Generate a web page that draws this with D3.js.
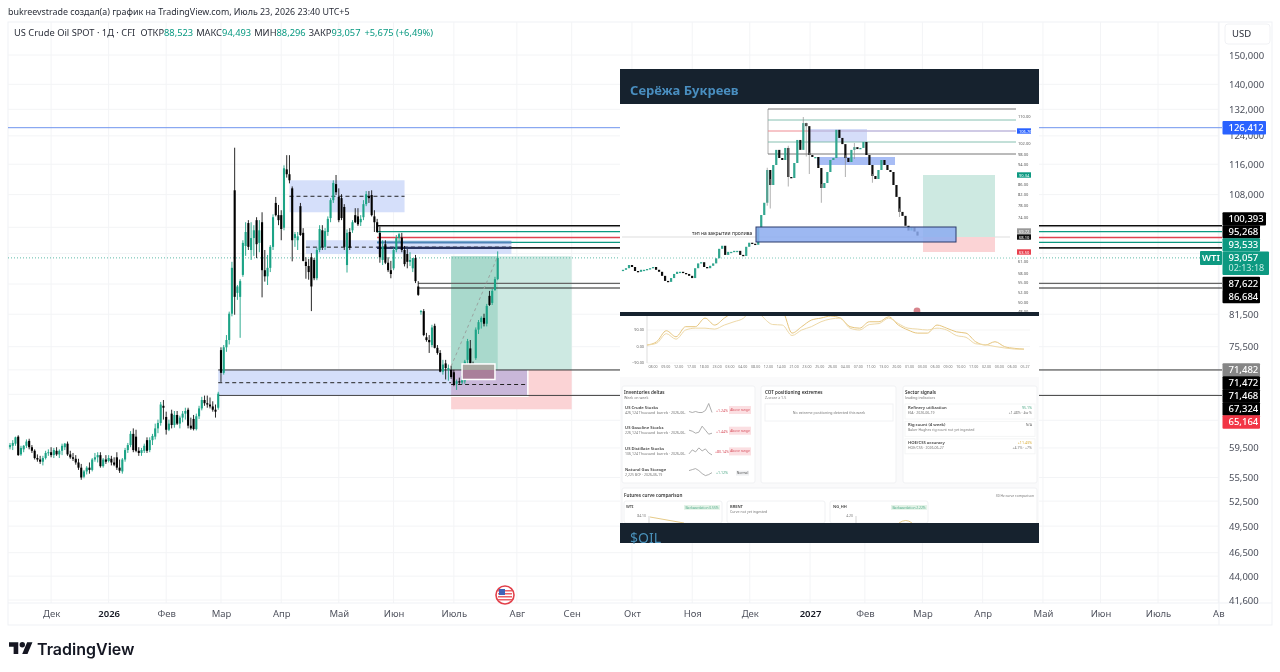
<!DOCTYPE html>
<html>
<head>
<meta charset="utf-8">
<script src="https://cdn.jsdelivr.net/npm/d3@7"></script>
<style>
  html, body { margin: 0; padding: 0; background: #fff; }
  svg { display: block; font-family: "Noto Sans", sans-serif; }
  .axis .domain, .axis line { display: none; }
</style>
</head>
<body>
<div id="chart"></div>
<script>
// Candles, one small list per month: open, high, low, close
const nov2025 = [[59.6,60.2,59.3,59.9],[59.8,60.6,59.2,60.2],[60.1,61.1,59.8,61.0],[61.1,61.3,58.4,58.5],[58.6,59.8,58.4,59.5],[59.3,59.9,58.9,59.8],[59.8,60.7,59.5,60.4],[60.5,60.8,59.3,59.6],[59.6,59.9,58.8,59.1],[59.1,59.3,57.9,58.1],[58.1,58.6,57.6,57.9],[57.9,58.4,57.3,57.6],[57.6,58.4,57.1,58.1],[58.1,59.1,57.9,58.8],[58.8,59.3,58.4,58.9]];
const dec2025 = [[58.9,59.6,58.2,58.5],[58.5,59.5,58.1,59.2],[59.1,59.6,58.4,58.6],[58.6,59.3,58.1,59.1],[59.1,60.1,58.5,59.8],[59.6,60.2,59.2,60.1],[60.1,60.4,58.4,58.6],[58.6,59.1,58.0,58.2],[58.2,58.8,57.7,58.0],[58.0,58.5,57.2,57.5],[57.5,58.0,56.5,56.8],[56.8,57.3,55.2,55.5],[55.6,56.5,55.4,56.3],[56.3,57.0,55.9,56.8],[56.8,57.5,56.0,56.5],[56.5,58.1,56.3,57.9],[57.9,58.8,57.6,58.2],[58.2,58.9,57.5,58.5],[58.5,58.9,56.8,57.0],[57.0,58.1,56.8,57.9],[57.9,58.5,57.3,57.6]];
const jan2026 = [[57.7,58.5,57.5,58.1],[58.0,58.4,57.1,57.5],[57.5,58.2,57.0,57.2],[58.2,58.9,56.5,56.8],[56.8,57.9,56.1,56.4],[56.3,58.1,56.0,57.9],[57.9,59.5,57.6,59.2],[59.2,60.2,58.8,59.9],[59.9,61.9,59.6,61.5],[61.5,62.3,58.9,59.2],[61.1,62.1,58.9,59.1],[59.1,59.6,58.4,58.8],[58.8,59.5,58.4,59.2],[59.1,60.1,58.8,59.8],[60.6,61.0,58.8,59.1],[59.2,61.0,58.9,60.6],[60.6,61.5,59.9,61.2],[61.1,63.0,60.7,62.3],[62.3,63.6,61.6,63.1],[63.1,66.3,62.7,65.9]];
const feb2026 = [[65.7,66.6,63.6,65.4],[64.0,64.8,61.4,62.1],[62.1,63.6,61.9,63.0],[64.5,65.1,62.3,62.8],[62.8,64.9,62.4,64.3],[64.3,64.9,62.8,63.0],[63.0,64.2,62.3,63.9],[63.9,64.9,63.2,64.5],[64.5,65.4,63.6,64.9],[65.1,65.4,62.3,62.7],[62.7,63.9,62.1,62.3],[63.7,64.3,62.0,62.2],[62.2,64.5,62.0,64.1],[64.1,65.7,63.7,65.3],[65.3,67.1,65.0,66.6],[66.6,67.3,65.7,66.1],[66.1,67.3,65.4,65.9],[65.9,67.0,65.3,65.6],[65.6,66.4,64.8,65.1],[65.1,65.9,63.9,64.8]];
const mar2026 = [[65.4,67.9,65.1,67.6],[74.9,75.4,69.5,71.0],[71.0,75.8,70.7,75.4],[75.4,77.6,74.6,76.7],[76.7,82.0,75.9,81.6],[81.6,92.2,81.1,90.9],[109.1,120.6,81.4,84.9],[85.7,87.3,84.3,87.0],[84.9,88.5,77.1,88.1],[89.4,97.0,89.0,96.4],[95.7,101.2,93.5,98.9],[101.0,101.7,94.8,95.5],[94.8,101.2,92.6,97.5],[97.5,100.5,93.5,99.3],[101.7,102.4,93.0,96.1],[96.4,101.7,94.3,99.3],[101.2,103.6,84.8,90.4],[90.4,94.8,88.0,89.1],[89.1,93.7,87.3,90.9],[90.9,95.9,90.0,95.5],[95.5,103.1,94.8,102.4],[105.9,107.4,102.6,102.9]];
const apr2026 = [[102.9,105.4,100.5,101.7],[102.9,104.1,97.0,99.6],[99.9,115.7,99.3,114.9],[114.6,118.5,112.4,113.3],[113.3,118.5,110.9,111.7],[109.6,110.1,92.3,97.0],[97.5,98.9,95.5,98.4],[97.0,98.9,94.8,97.9],[105.1,105.9,98.0,98.2],[98.7,99.8,92.3,92.4],[92.2,93.2,88.6,91.3],[91.3,92.8,88.4,90.0],[93.2,94.1,82.1,87.0],[92.6,93.0,88.3,88.7],[88.7,95.3,88.3,94.8],[94.8,100.5,94.3,99.6],[99.3,100.5,94.8,95.5],[95.5,99.8,94.8,99.1],[98.9,102.6,98.0,102.0],[102.2,107.1,101.2,106.6],[106.6,111.7,105.9,111.0]];
const may2026 = [[110.7,113.1,107.9,108.6],[107.4,109.6,101.2,101.7],[107.1,108.1,101.7,102.2],[104.9,105.6,94.8,95.5],[91.5,99.5,89.9,98.7],[98.9,99.8,94.8,95.3],[99.3,101.7,98.7,101.2],[102.9,104.6,101.0,101.2],[102.6,104.6,100.3,100.7],[101.2,102.9,100.3,102.0],[102.4,106.6,101.7,105.6],[105.6,108.9,105.1,108.1],[107.6,108.9,105.9,107.1],[107.9,109.1,102.6,102.9],[102.6,104.1,98.9,101.2],[101.2,102.0,98.7,98.9],[98.7,100.2,92.0,93.2],[92.6,97.0,91.5,95.5],[96.1,97.0,91.7,92.0],[92.0,93.2,90.0,90.4],[90.4,92.4,88.7,89.6]];
const jun2026 = [[90.8,95.3,90.4,94.8],[94.8,98.2,94.3,97.5],[97.5,98.7,96.6,98.4],[97.6,98.7,94.3,94.8],[94.8,95.7,91.2,91.7],[93.9,95.0,90.8,92.2],[92.2,94.3,91.3,92.6],[90.8,93.0,90.0,93.0],[93.0,93.7,87.7,88.1],[87.0,88.1,85.1,85.3],[81.9,82.3,81.4,82.1],[82.1,82.5,77.4,77.6],[77.2,78.0,76.4,76.7],[76.7,77.6,74.4,76.3],[75.8,79.5,75.4,79.0],[79.3,79.7,75.2,75.3],[75.3,75.8,74.1,74.4],[74.4,74.9,71.1,71.2],[71.2,73.2,70.7,72.4],[72.6,73.2,69.9,71.8],[71.5,72.4,69.7,71.8]];
const jul2026 = [[71.5,72.2,70.0,70.3],[71.1,71.5,68.8,69.0],[69.2,69.9,68.2,69.6],[69.6,70.2,69.0,69.4],[69.4,70.5,69.1,69.9],[69.6,73.2,69.2,72.9],[73.2,76.9,72.4,76.5],[75.2,76.7,72.2,72.4],[72.2,72.9,71.7,72.1],[73.5,79.0,73.2,78.6],[78.6,80.4,77.8,80.0],[80.0,81.1,78.8,80.8],[80.8,81.6,79.2,79.7],[79.7,83.5,79.2,83.1],[85.1,86.1,83.1,83.3],[83.7,86.5,83.3,86.1],[86.3,89.0,86.1,88.5],[88.523,94.493,88.296,93.057]];

// Axis
const priceTicks = [150, 140, 132, 124, 116, 108, 81.5, 75.5, 59.5, 55.5, 52.5, 49.5, 46.5, 44, 41.6];
const hiddenGridTicks = [100, 94, 87.5, 71.5, 67.5, 63.5];
const monthLabels = ["Дек", "2026", "Фев", "Мар", "Апр", "Май", "Июн", "Июль", "Авг", "Сен", "Окт", "Ноя", "Дек", "2027", "Фев", "Мар", "Апр", "Май", "Июн", "Июль", "Ав"];
const monthBars = [15, 36, 57, 77, 99, 120, 140, 162, 185, 205, 227, 249, 270, 292, 312, 333, 355, 377, 398, 419, 441];

// Price tags on the right scale
const tagPrices = [126.412, 100.393, 95.268, 93.533, 93.057, 87.622, 86.684, 71.482, 71.472, 71.468, 67.324, 65.164];
const tagColors = ["#2962ff", "#000", "#000", "#089981", "#089981", "#000", "#000", "#868686", "#000", "#000", "#000", "#f23645"];

// Horizontal levels: price, first bar, colour, stroke width
const levelPrices = [100.393, 99.0, 97.6, 96.5, 95.268, 87.622, 86.684, 71.482, 67.324];
const levelStarts = [134, 134, 134, 134, 134, 149, 149, 76, 76];
const levelColors = ["#111", "#089981", "#e0424f", "#089981", "#222", "#666", "#222", "#333", "#444"];
const levelWidths = [1.5, 1.3, 1.5, 1.2, 1.6, 1.2, 1.2, 1, 1];

// Blue zones: first bar, last bar, top, bottom
const zoneFirst = [102, 108, 76];
const zoneLast = [144, 183, 189];
const zoneTop = [111.7, 97.0, 71.5];
const zoneBottom = [103.6, 93.9, 67.3];

// Inset screenshot: candle closes, axis marks, curve lines
const insetCloses = [58.8,59.2,60,59.5,58.5,58.3,58.8,58.8,59,59.2,59.5,58.8,58.3,57.1,55.5,55.2,56.4,57.7,58.3,58.3,58,57.7,57.1,56.4,59.2,60.4,60.7,59.5,59.2,59.8,60.4,61.8,64.6,65.5,62.8,63.7,63.7,64,64,62.8,62.5,65.2,66.4,66.1,65.8,70.9,74.7,79,91.6,85.6,93.6,99.5,96.4,95.6,100.2,88.8,88.4,94.4,102.9,99.5,107.9,107,97.6,96.8,96.8,92.4,84.4,86.4,90.8,95.6,96.4,105.9,103.5,101.6,96.4,94.8,99.5,100.5,99.8,100.2,102.3,97.6,93.6,89.2,88,91.6,95.6,93.6,91.6,90.8,85.6,81,75.8,74.4,71.4,70,70.9,69.7,68.5];
const insetWickBars = [48, 49, 55, 60, 61, 62, 66, 74, 77, 83, 92];
const insetWickHighs = [92.5, 88, 101, 109.7, 108, 98.5, 86, 97.5, 102, 90, 77];
const insetWickLows = [78, 77, 85, 106, 97, 90, 79, 88.8, 96, 86.5, 74];
const insetTicks = [110, 102, 98, 94, 86, 82, 78, 74, 61, 58, 55, 52, 50, 48];
const insetTickPixels = [116, 143, 154, 164, 184, 194, 205.7, 217, 261, 273, 282.5, 292.5, 302.5, 311];
const curveDates = ["08.00","09.00","12.00","17.00","18.00","23.00","03.00","04.00","08.00","12.00","14.00","21.00","23.00","25.00","26.00","04.00","07.00","11.00","13.00","20.00","01.00","03.00","06.00","09.00","10.00","17.00","02.00","03.00","06.00","05.27"];
const curveA = [8,26,86,53,108,108,155,117,155,190,217,182,210,190,190,73,108,144,155,166,155,108,100,135,135,162,117,90,73,73,117,100,80,73,26,8,26,-1,-10,-14];
const curveB = [8,18,70,40,90,100,100,95,117,135,155,217,160,120,117,60,90,108,135,150,155,100,90,120,125,155,125,100,95,90,100,90,60,50,15,10,0,-8,-14,-16];
const sparkCrude = [4, 3, 4, 3, 3, 5, 12, 3];
const sparkGasoline = [6, 5, 3, 4, 10, 6, 2, 3];
const sparkDistillate = [3, 7, 5, 9, 6, 8, 4, 2];
const sparkGas = [7, 8, 9, 7, 4, 2, 3, 5];

const candles = [...nov2025, ...dec2025, ...jan2026, ...feb2026, ...mar2026, ...apr2026, ...may2026, ...jun2026, ...jul2026];

const width = 1280;
const height = 672;
const chart = {left: 8, right: 1272, top: 22, bottom: 625, plotRight: 1219, plotBottom: 603};

const teal = "#1ba386";
const svg = d3.select("#chart").append("svg")
    .attr("width", width)
    .attr("height", height);

const defs = svg.append("defs");
defs.append("filter").attr("id", "soft")
    .append("feGaussianBlur").attr("stdDeviation", 0.35);
defs.append("filter").attr("id", "softer")
    .append("feGaussianBlur").attr("stdDeviation", 0.55);
defs.append("clipPath").attr("id", "curveClip")
    .append("rect").attr("x", 622).attr("y", 316).attr("width", 415).attr("height", 60);

// Scales
const xScale = d3.scaleLinear().domain([0, 178]).range([10, 497.7]);
const yScale = d3.scaleLog().domain([150, 41.6]).range([55, 600]);
const fmt = d => d3.format(".3f")(d).replace(".", ",");

const main = svg.append("g").attr("filter", "url(#soft)");

// Frame and grid
const frame = main.append("g");
frame.append("rect")
    .attr("x", chart.left).attr("y", chart.top)
    .attr("width", chart.right - chart.left).attr("height", chart.bottom - chart.top)
    .attr("fill", "#fff").attr("stroke", "#eff1f5");

frame.selectAll(".gridY")
    .data([...priceTicks, ...hiddenGridTicks])
    .join("line")
        .attr("x1", chart.left).attr("x2", chart.plotRight)
        .attr("y1", d => yScale(d)).attr("y2", d => yScale(d))
        .attr("stroke", "#f3f4f6");

frame.selectAll(".gridX")
    .data(monthBars)
    .join("line")
        .attr("x1", d => xScale(d)).attr("x2", d => xScale(d))
        .attr("y1", chart.top).attr("y2", chart.plotBottom)
        .attr("stroke", "#f3f4f6");

frame.append("line")
    .attr("x1", chart.plotRight).attr("x2", chart.plotRight)
    .attr("y1", chart.top).attr("y2", chart.bottom)
    .attr("stroke", "#eff1f5");
frame.append("line")
    .attr("x1", chart.left).attr("x2", chart.right)
    .attr("y1", chart.plotBottom).attr("y2", chart.plotBottom)
    .attr("stroke", "#eff1f5");

// Long position box
const entry = 71.482, target = 93.4, stop = 65.164;
const boxes = main.append("g");
const drawBox = (g, x0, x1, top, bottom, fill) => g.append("rect")
    .attr("x", xScale(x0)).attr("width", xScale(x1) - xScale(x0))
    .attr("y", yScale(top)).attr("height", yScale(bottom) - yScale(top))
    .attr("fill", fill);

drawBox(boxes, 161, 205, target, entry, "#cde9e2");
drawBox(boxes, 161, 178, target, entry, "#a9d9cc");
drawBox(boxes, 161, 205, entry, stop, "#fbd3d5");

// Blue zones
zoneFirst.forEach((first, i) => {
    drawBox(boxes, first, zoneLast[i], zoneTop[i], zoneBottom[i], "#d5dffa");
    boxes.append("line")
        .attr("x1", xScale(first)).attr("x2", xScale(zoneLast[i]))
        .attr("y1", (yScale(zoneTop[i]) + yScale(zoneBottom[i])) / 2)
        .attr("y2", (yScale(zoneTop[i]) + yScale(zoneBottom[i])) / 2)
        .attr("stroke", "#222").attr("stroke-dasharray", "4 3");
});

// Where the last zone runs under the position
drawBox(boxes, 161, 189, entry, 67.3, "#c9b7d9");
boxes.append("line")
    .attr("x1", xScale(161)).attr("x2", xScale(189))
    .attr("y1", 384.5).attr("y2", 384.5)
    .attr("stroke", "#222").attr("stroke-dasharray", "4 3");
boxes.append("path")
    .attr("d", `M${xScale(161)},${yScale(67.2)}H${xScale(189)}V${yScale(entry)}`)
    .attr("fill", "none").attr("stroke", "#fff").attr("stroke-width", 1.5);

// Levels
main.append("g").selectAll("line")
    .data(levelPrices)
    .join("line")
        .attr("x1", (d, i) => xScale(levelStarts[i]))
        .attr("x2", 1222)
        .attr("y1", d => yScale(d)).attr("y2", d => yScale(d))
        .attr("stroke", (d, i) => levelColors[i])
        .attr("stroke-width", (d, i) => levelWidths[i]);

// Inside the zone the two upper levels are blue and navy
[[96.5, "#4f83b8", 2], [95.268, "#2a3560", 2.4]].forEach(([price, color, w]) => {
    main.append("line")
        .attr("x1", xScale(134)).attr("x2", xScale(183))
        .attr("y1", yScale(price)).attr("y2", yScale(price))
        .attr("stroke", color).attr("stroke-width", w);
});

main.append("line")
    .attr("x1", chart.left).attr("x2", 1222)
    .attr("y1", yScale(126.412)).attr("y2", yScale(126.412))
    .attr("stroke", "#6f94ee");

main.append("line")
    .attr("x1", chart.left).attr("x2", 1200)
    .attr("y1", yScale(93.057)).attr("y2", yScale(93.057))
    .attr("stroke", "#5dbba8").attr("stroke-dasharray", "1 2");

// Candles
const candleG = main.append("g");
candleG.selectAll("line")
    .data(candles)
    .join("line")
        .attr("x1", (d, i) => xScale(i)).attr("x2", (d, i) => xScale(i))
        .attr("y1", d => yScale(d[1])).attr("y2", d => yScale(d[2]))
        .attr("stroke", d => d[3] >= d[0] ? teal : "#111")
        .attr("stroke-width", 0.9);
candleG.selectAll("rect")
    .data(candles)
    .join("rect")
        .attr("x", (d, i) => xScale(i) - 1.05)
        .attr("width", 2.1)
        .attr("y", d => yScale(Math.max(d[0], d[3])))
        .attr("height", d => Math.max(1, Math.abs(yScale(d[0]) - yScale(d[3]))))
        .attr("fill", d => d[3] >= d[0] ? teal : "#000");

// Small entry box and the dashed path up to the last close
const entryBox = main.append("g");
entryBox.append("rect")
    .attr("x", xScale(165)).attr("width", xScale(177) - xScale(165))
    .attr("y", yScale(72.5)).attr("height", yScale(entry) - yScale(72.5))
    .attr("fill", "#a9a8a2");
entryBox.append("rect")
    .attr("x", xScale(165)).attr("width", xScale(177) - xScale(165))
    .attr("y", yScale(entry)).attr("height", yScale(69.9) - yScale(entry))
    .attr("fill", "#a97f9a");
entryBox.append("rect")
    .attr("x", xScale(165)).attr("width", xScale(177) - xScale(165))
    .attr("y", yScale(72.5)).attr("height", yScale(69.9) - yScale(72.5))
    .attr("fill", "none").attr("stroke", "#fff").attr("stroke-width", 1.5);
entryBox.append("line")
    .attr("x1", xScale(161)).attr("x2", xScale(178))
    .attr("y1", yScale(72.1)).attr("y2", yScale(target))
    .attr("stroke", "#9aa3a0").attr("stroke-dasharray", "3 3");

// Axes
const yAxis = main.append("g")
    .attr("class", "axis")
    .attr("transform", `translate(1222,0)`)
    .call(d3.axisRight(yScale).tickValues(priceTicks).tickFormat(fmt).tickSize(0).tickPadding(7));
yAxis.selectAll("text")
    .attr("font-size", 9.5).attr("fill", "#4a4e5a").attr("font-family", "Noto Sans");

const xAxis = main.append("g")
    .attr("class", "axis")
    .attr("transform", `translate(0,${chart.plotBottom})`)
    .call(d3.axisBottom(xScale).tickValues(monthBars)
        .tickFormat((d, i) => monthLabels[i]).tickSize(0).tickPadding(7));
xAxis.selectAll("text")
    .attr("font-size", 9.5).attr("font-family", "Noto Sans")
    .attr("fill", (d, i) => /^\d/.test(monthLabels[i]) ? "#131722" : "#50535e")
    .attr("font-weight", (d, i) => /^\d/.test(monthLabels[i]) ? 600 : 400);

// Right scale tags, pushed apart around the last price
const tagStep = 13;
const tagRows = tagPrices.map((price, i) => ({price, color: tagColors[i], y: yScale(price), last: price === 93.057}));
const lastTag = tagRows.findIndex(d => d.last);
for (let i = lastTag - 1; i >= 1; i--) {
    tagRows[i].y = Math.min(tagRows[i].y, tagRows[i + 1].y - tagStep);
}
for (let i = lastTag + 1; i < tagRows.length; i++) {
    if (tagRows[i - 1].last) continue;
    tagRows[i].y = Math.max(tagRows[i].y, tagRows[i - 1].y + tagStep);
}
const tags = main.append("g").selectAll("g")
    .data(tagRows)
    .join("g")
        .attr("transform", d => `translate(1222.5,${d.y})`);
tags.append("rect")
    .attr("y", d => d.last ? -6.5 : -6.7)
    .attr("width", d => d.last ? 46.5 : (d.price >= 100 ? 43.5 : 37.5))
    .attr("height", d => d.last ? 23.5 : 13.4)
    .attr("rx", 1)
    .attr("fill", d => d.color);
tags.append("text")
    .attr("x", 6)
    .attr("y", 3.4)
    .attr("font-size", 9.5)
    .attr("font-weight", 500)
    .attr("fill", "#fff")
    .text(d => fmt(d.price));
tags.filter(d => d.last).append("text")
    .attr("x", 6)
    .attr("y", 13.5)
    .attr("font-size", 9)
    .attr("fill", "#c5ebe2")
    .text("02:13:18");

// WTI flag
const wti = main.append("g").attr("transform", `translate(1200,${yScale(93.057) - 7})`);
wti.append("rect").attr("width", 22).attr("height", 14).attr("rx", 1).attr("fill", "#089981");
wti.append("text").attr("x", 11).attr("y", 10.4).attr("text-anchor", "middle")
    .attr("font-size", 9.5).attr("font-weight", 600).attr("fill", "#fff").text("WTI");

// USD button
main.append("rect").attr("x", 1225).attr("y", 24).attr("width", 45).attr("height", 20)
    .attr("rx", 3).attr("fill", "#fff").attr("stroke", "#f0f1f4");
main.append("text").attr("x", 1232).attr("y", 37).attr("font-size", 9.5).attr("fill", "#2a2e39").text("USD");

// Titles
main.append("text").attr("x", 8).attr("y", 15)
    .attr("font-size", 8.9).attr("fill", "#2a2e39")
    .text("bukreevstrade создал(а) график на TradingView.com, Июль 23, 2026 23:40 UTC+5");

const legend = main.append("text").attr("x", 14).attr("y", 36).attr("font-size", 9.3).attr("fill", "#2a2e39");
legend.append("tspan").text("US Crude Oil SPOT · 1Д · CFI  ");
[["ОТКР", "88,523"], ["МАКС", "94,493"], ["МИН", "88,296"], ["ЗАКР", "93,057"]].forEach(([name, value]) => {
    legend.append("tspan").attr("dx", 3).text(name);
    legend.append("tspan").attr("fill", "#089981").text(value);
});
legend.append("tspan").attr("dx", 4).attr("fill", "#089981").text("+5,675 (+6,49%)");

// Economic event badge
const flag = main.append("g").attr("transform", "translate(505,595)");
flag.append("circle").attr("r", 9).attr("fill", "#fff").attr("stroke", "#e2404a").attr("stroke-width", 1.6);
[-5, -2, 1, 4].forEach(dy => flag.append("rect")
    .attr("x", -7).attr("y", dy).attr("width", 14).attr("height", 1.5).attr("fill", "#ea6068"));
flag.append("rect").attr("x", -6).attr("y", -6).attr("width", 6).attr("height", 6).attr("fill", "#3f63b8");

// Logo
const logo = svg.append("g").attr("filter", "url(#soft)");
logo.append("path")
    .attr("transform", "translate(9,639.5) scale(0.66)")
    .attr("d", "M14 22H7V11H0V4h14v18zM28 22h-8l7.5-18h8L28 22z")
    .attr("fill", "#131722");
logo.append("circle").attr("cx", 22.3).attr("cy", 644.8).attr("r", 2.7).attr("fill", "#131722");
logo.append("text").attr("x", 37).attr("y", 655)
    .attr("font-family", "Inter").attr("font-size", 16).attr("font-weight", 600).attr("fill", "#131722")
    .text("TradingView");

// Inset screenshot
const inset = svg.append("g").attr("filter", "url(#softer)");
inset.append("rect").attr("x", 620).attr("y", 69).attr("width", 419).attr("height", 474).attr("fill", "#fafafb");
inset.append("rect").attr("x", 620).attr("y", 104).attr("width", 419).attr("height", 208).attr("fill", "#fff");
inset.append("rect").attr("x", 620).attr("y", 69).attr("width", 419).attr("height", 35).attr("fill", "#13202d");
inset.append("text").attr("x", 630).attr("y", 95)
    .attr("font-size", 13).attr("font-weight", 700).attr("fill", "#4a8ebf").text("Серёжа Букреев");

const ix = d3.scaleLinear().domain([0, insetCloses.length - 1]).range([623, 917.5]);
const iy = d3.scaleLinear().domain(insetTicks).range(insetTickPixels);
const insetBar = x => 620 + x;

// Inset zones and lines
const insetRect = (x, y, w, h, fill, stroke) => inset.append("rect")
    .attr("x", x).attr("y", y).attr("width", w).attr("height", h)
    .attr("fill", fill).attr("stroke", stroke || "none");
const insetLine = (x1, y1, x2, y2, color, w) => inset.append("line")
    .attr("x1", x1).attr("y1", y1).attr("x2", x2).attr("y2", y2)
    .attr("stroke", color).attr("stroke-width", w || 1);

insetLine(622, 258, 1039, 258, "#5dbba8", 0.8).attr("stroke-dasharray", "1 2");
insetLine(622, 237, 1010, 237, "#c8c8c8", 0.6);
insetRect(923, 175, 72, 62, "#cde9e1");
insetRect(923, 237, 72, 15, "#fbd3d5");
insetRect(808, 129, 59, 13, "#d5ddf9");
insetLine(768, 109, 768, 154, "#999", 0.8);
insetLine(768, 109, 1016, 109, "#777", 1);
insetLine(768, 120, 1016, 120, "#79b9a8", 0.9);
insetLine(768, 131, 808, 131, "#ee8b92", 1);
insetLine(808, 131, 1016, 131, "#bfb8dd", 1.4);
insetLine(768, 142, 1016, 142, "#79b9a8", 0.9);
insetLine(768, 154, 1016, 154, "#777", 1);
insetRect(817, 157, 78, 8, "#a8bdf5");

// Inset candles
const insetBars = inset.append("g");
const insetOpen = (d, i) => i === 0 ? d : insetCloses[i - 1];
insetWickBars.forEach((bar, i) => {
    insetLine(ix(bar), iy(insetWickHighs[i]), ix(bar), iy(insetWickLows[i]), "#8f8f8f", 0.7);
});
insetBars.selectAll("rect")
    .data(insetCloses)
    .join("rect")
        .attr("x", (d, i) => ix(i) - 1.1)
        .attr("width", 2.2)
        .attr("y", (d, i) => iy(Math.max(d, insetOpen(d, i))))
        .attr("height", (d, i) => Math.max(1.3, Math.abs(iy(d) - iy(insetOpen(d, i)))))
        .attr("fill", (d, i) => d >= insetOpen(d, i) ? "#31a68f" : "#111");

insetRect(756, 227, 200, 15, "#8cabf0", "#2b3a6b").attr("fill-opacity", 0.85);
inset.append("text").attr("x", 692).attr("y", 235)
    .attr("font-size", 4.9).attr("fill", "#222").text("тэп на закрытии пролива");

// Inset price axis
const insetAxis = inset.append("g")
    .attr("class", "axis")
    .attr("transform", "translate(1016,0)")
    .call(d3.axisRight(iy).tickValues(insetTicks).tickFormat(d3.format(".2f")).tickSize(0).tickPadding(2));
insetAxis.selectAll("text").attr("font-size", 4).attr("fill", "#555").attr("font-family", "Noto Sans");

[["106.76", 131, "#2962ff"], ["90.34", 175, "#089981"], ["69.72", 231, "#999"], ["68.10", 237, "#111"], ["63.50", 252, "#e8404e"]].forEach(([label, y, color]) => {
    insetRect(1017, y - 2.7, 14, 5.4, color);
    inset.append("text").attr("x", 1019).attr("y", y + 1.5).attr("font-size", 4).attr("fill", "#fff").text(label);
});
inset.append("circle").attr("cx", 917).attr("cy", 311).attr("r", 3.4).attr("fill", "#d7848c");

// Divider and curve chart
insetRect(620, 312, 419, 4, "#13202d");
insetRect(620, 316, 419, 61, "#fff");
const cx = d3.scaleLinear().domain([0, curveA.length - 1]).range([647, 1024]);
const cy = d3.scaleLinear().domain([-90, 90]).range([363, 330]);
const curveLine = d3.line().x((d, i) => cx(i)).y(d => cy(d)).curve(d3.curveMonotoneX);
[-90, 0, 90].forEach(v => {
    insetLine(647, cy(v), 1030, cy(v), "#efefef", 0.6);
    inset.append("text").attr("x", 644).attr("y", cy(v) + 1.4).attr("text-anchor", "end")
        .attr("font-size", 3.8).attr("fill", "#666").text(d3.format(".2f")(v));
});
insetLine(647, 316, 647, 363, "#cfcfcf", 0.7);
const curveDateScale = d3.scalePoint().domain(d3.range(curveDates.length)).range([653, 1025]);
curveDates.forEach((label, i) => inset.append("text")
    .attr("x", curveDateScale(i)).attr("y", 368).attr("text-anchor", "middle")
    .attr("font-size", 3.6).attr("fill", "#777").text(label));
const curves = inset.append("g").attr("clip-path", "url(#curveClip)");
curves.append("path").datum(curveA).attr("d", curveLine).attr("fill", "none").attr("stroke", "#e6c57d").attr("stroke-width", 1);
curves.append("path").datum(curveB).attr("d", curveLine).attr("fill", "none").attr("stroke", "#eed9a8").attr("stroke-width", 1);

// Cards
const card = (x, y, w, h) => insetRect(x, y, w, h, "#fff", "#f0f1f3").attr("rx", 2);
const label = (x, y, text, size, color, weight, anchor) => inset.append("text")
    .attr("x", x).attr("y", y).attr("font-size", size).attr("fill", color)
    .attr("font-weight", weight || 400).attr("text-anchor", anchor || "start").text(text);
card(622, 386, 133, 97);
card(761, 386, 135, 97);
card(903, 386, 134, 97);
card(622, 488, 415, 36);

label(624, 394, "Inventories deltas", 4.6, "#333", 600);
label(624, 399, "Week on week", 3.6, "#777");
const rows = [
    ["US Crude Stocks", "426,124 Thousand_barrels · 2026-06-", "+1.24%", sparkCrude, true],
    ["US Gasoline Stocks", "226,124 Thousand_barrels · 2026-06-", "+1.44%", sparkGasoline, true],
    ["US Distillate Stocks", "106,124 Thousand_barrels · 2026-06-", "+80.14%", sparkDistillate, true],
    ["Natural Gas Storage", "2,225 BCF · 2026-06-19", "+1.12%", sparkGas, false]
];
const sparkX = d3.scaleLinear().domain([0, 7]);
const sparkY = d3.scaleLinear().domain([0, 14]);
rows.forEach((row, i) => {
    const y = 408.5 + i * 20.7;
    label(625, y, row[0], 4.2, "#444", 600);
    label(625, y + 5, row[1], 3.5, "#777");
    sparkX.range([689, 712]);
    sparkY.range([y + 7, y - 7]);
    inset.append("path").datum(row[3])
        .attr("d", d3.line().x((d, k) => sparkX(k)).y(d => sparkY(d)))
        .attr("fill", "none").attr("stroke", "#999").attr("stroke-width", 0.8);
    label(722, y + 3.5, row[2], 3.6, row[4] ? "#d9505e" : "#4fa988", 400, "middle");
    if (row[4]) {
        insetRect(729, y - 2.5, 22, 8, "#fbdfe2");
        label(740, y + 2.5, "Above range", 3.3, "#d9505e", 400, "middle");
    } else {
        insetRect(736, y, 13, 5, "#eff0f2");
        label(742.5, y + 3.7, "Normal", 3.3, "#555", 400, "middle");
    }
});

label(765, 394, "COT positioning extremes", 4.6, "#333", 600);
label(765, 399, "Z-score ≥ 1.5", 3.6, "#777");
insetRect(765, 404, 128, 17, "#fff", "#f1f2f4");
label(829, 413.5, "No extreme positioning detected this week", 3.6, "#777", 400, "middle");

label(905, 394, "Sector signals", 4.6, "#333", 600);
label(905, 399, "leading indicators", 3.6, "#777");
[
    ["Refinery utilization", "EIA · 2026-06-19", "95.1%", "#4fa988", "+1.48% · 4w %"],
    ["Rig count (4 week)", "Baker Hughes rig count not yet ingested", "N/A", "#777", ""],
    ["HOE/CSS accuracy", "HOE/CSS · 2026-06-27", "+11.43%", "#d9ae3a", "+4.7% · +7%"]
].forEach((row, i) => {
    const y = 409 + i * 17.4;
    insetRect(905, y - 5, 130, 15, "#fff", "#f4f5f6");
    label(908, y, row[0], 4.2, "#444", 600);
    label(908, y + 5, row[1], 3.5, "#777");
    label(1032, y, row[2], 3.6, row[3], 400, "end");
    if (row[4]) label(1032, y + 5, row[4], 3.5, "#777", 400, "end");
});

label(624, 497, "Futures curve comparison", 4.6, "#333", 600);
label(1034, 497, "30 Hz curve comparison", 3.4, "#777", 400, "end");
card(624, 501, 98, 22);
card(727, 501, 98, 22);
card(830, 501, 98, 22);
label(626, 508, "WTI", 4, "#444", 600);
label(730, 508, "BRENT", 4, "#444", 600);
label(730, 513, "Curve not yet ingested", 3.5, "#777");
label(833, 508, "NG_HH", 4, "#444", 600);
[[684, "Backwardation 0.55%"], [891, "Backwardation 2.22%"]].forEach(([x, text]) => {
    insetRect(x, 505, 36, 4.8, "#e3f3e7");
    label(x + 18, 508.6, text, 3.3, "#4fa988", 400, "middle");
});
insetLine(650, 517, 684, 523, "#e3c47a", 0.9);
insetLine(649, 516, 649, 523, "#bbb", 0.6);
insetLine(856, 516, 856, 523, "#bbb", 0.6);
inset.append("path").attr("d", "M899,523 Q906,518 912,523").attr("fill", "none").attr("stroke", "#e3c47a").attr("stroke-width", 0.9);
label(646, 517, "84.10", 3.4, "#777", 400, "end");
label(853, 517, "4.20", 3.4, "#777", 400, "end");

// Footer
insetRect(620, 523, 419, 20, "#13202d");
inset.append("text").attr("x", 630).attr("y", 543)
    .attr("font-size", 14).attr("fill", "#4a90b8").text("$OIL");
</script>
</body>
</html>
